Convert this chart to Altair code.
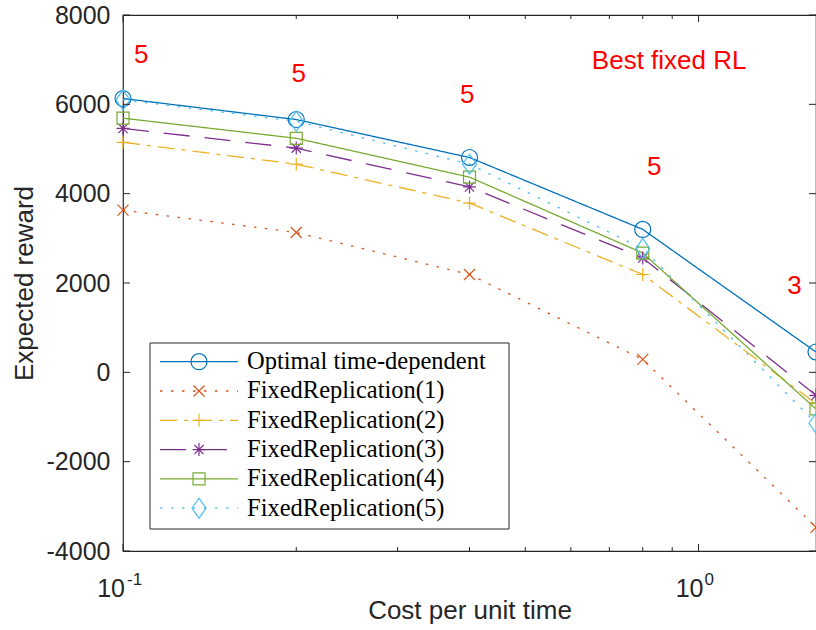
import altair as alt
import pandas as pd

# ---- data -------------------------------------------------------------
cost = [0.1, 0.2, 0.4, 0.8, 1.6]

series = [
    "Optimal time-dependent",
    "FixedReplication(1)",
    "FixedReplication(2)",
    "FixedReplication(3)",
    "FixedReplication(4)",
    "FixedReplication(5)",
]

optimal = [6130, 5660, 4810, 3200, 455]
fixed_1 = [3630, 3130, 2190, 290, -3470]
fixed_2 = [5150, 4660, 3790, 2190, -700]
fixed_3 = [5460, 5020, 4150, 2560, -515]
fixed_4 = [5690, 5240, 4370, 2670, -820]
fixed_5 = [6100, 5620, 4660, 2770, -1140]

# best fixed replication level for each cost, written above the curves
best_level = ["5", "5", "5", "5", "3"]
best_level_x = [0.1076, 0.2019, 0.3964, 0.8377, 1.4685]
best_level_y = [6920, 6510, 6020, 4410, 1750]

y_ticks = [-4000, -2000, 0, 2000, 4000, 6000, 8000]
x_ticks = [0.1, 0.2, 0.3, 0.4, 0.5, 0.6, 0.7, 0.8, 0.9, 1.0]
x_major = [0.1, 1.0]
x_exponents = ["-1", "0"]

# ---- styling ----------------------------------------------------------
colors = ["#0072BD", "#D95319", "#EDB120", "#7E2F8E", "#77AC30", "#4DBEEE"]
dashes = [[1, 0], [2.5, 8.5], [17, 7, 4, 7], [26, 15], [1, 0], [2.5, 8.5]]
shapes = [
    "M-0.8,0A0.8,0.8,0,1,1,0.8,0A0.8,0.8,0,1,1,-0.8,0Z",            # circle
    "M-0.55,-0.55L0.55,0.55M-0.55,0.55L0.55,-0.55",                  # x
    "M-0.65,0L0.65,0M0,-0.65L0,0.65",                                # plus
    "M-0.65,0L0.65,0M0,-0.65L0,0.65M-0.46,-0.46L0.46,0.46M-0.46,0.46L0.46,-0.46",  # asterisk
    "M-0.6,-0.6L0.6,-0.6L0.6,0.6L-0.6,0.6Z",                         # square
    "M0,-1L0.7,0L0,1L-0.7,0Z",                                       # diamond
]

W, H = 693, 536
AX = "#262626"
SANS = "Liberation Sans"
SERIF = "Liberation Serif"

values = [optimal, fixed_1, fixed_2, fixed_3, fixed_4, fixed_5]
df = pd.DataFrame(
    [{"series": s, "idx": i, "cost": c, "reward": v}
     for i, (s, vals) in enumerate(zip(series, values))
     for c, v in zip(cost, vals)]
)
legend_df = pd.DataFrame({"series": series, "idx": list(range(len(series)))})
ann_df = pd.DataFrame({"x": best_level_x, "y": best_level_y, "label": best_level})
xt_df = pd.DataFrame({"tick": x_ticks, "major": [t in x_major for t in x_ticks]})
yt_df = pd.DataFrame({"tick": y_ticks})
exp_df = pd.DataFrame({"tick": x_major, "exp": x_exponents})
one = pd.DataFrame({"a": [0]})

xs = alt.Scale(type="log", domain=[0.1, 1.6], nice=False)
ys = alt.Scale(domain=[-4000, 8000], nice=False, zero=False)
x_axis = alt.Axis(labels=False, ticks=False, domain=False, grid=False,
                  title="Cost per unit time", titleY=67, titleBaseline="alphabetic")
y_axis = alt.Axis(values=y_ticks, labelExpr="datum.value + ''", ticks=False,
                  domain=False, grid=False, labelPadding=13,
                  title="Expected reward", titleX=-91, titleBaseline="alphabetic")

color_sc = alt.Scale(domain=series, range=colors)
dash_sc = alt.Scale(domain=series, range=dashes)
shape_sc = alt.Scale(domain=series, range=shapes)

X = alt.X("cost:Q", scale=xs, axis=x_axis)
Y = alt.Y("reward:Q", scale=ys, axis=y_axis)
COLOR = alt.Color("series:N", scale=color_sc, legend=None)
DASH = alt.StrokeDash("series:N", scale=dash_sc, legend=None)
SHAPE = alt.Shape("series:N", scale=shape_sc, legend=None)

# ---- curves -----------------------------------------------------------
lines = alt.Chart(df).mark_line(strokeWidth=1.3, strokeCap="butt").encode(
    x=X, y=Y, color=COLOR, strokeDash=DASH, order="idx:Q"
)
points = alt.Chart(df).mark_point(filled=False, strokeWidth=1.2, size=400, opacity=1).encode(
    x=X, y=Y, color=COLOR, shape=SHAPE
)

# ---- inward MATLAB-style ticks ----------------------------------------
XT = alt.X("tick:Q", scale=xs, axis=x_axis)
YT = alt.Y("tick:Q", scale=ys, axis=y_axis)
tick_style = dict(color=AX, strokeWidth=1)
xt_major = alt.Chart(xt_df).transform_filter("datum.major")
xt_minor = alt.Chart(xt_df).transform_filter("!datum.major")
ticks = [
    xt_major.mark_rule(**tick_style).encode(x=XT, y=alt.value(H), y2=alt.value(H - 7)),
    xt_major.mark_rule(**tick_style).encode(x=XT, y=alt.value(0), y2=alt.value(7)),
    xt_minor.mark_rule(**tick_style).encode(x=XT, y=alt.value(H), y2=alt.value(H - 4)),
    xt_minor.mark_rule(**tick_style).encode(x=XT, y=alt.value(0), y2=alt.value(4)),
    alt.Chart(yt_df).mark_rule(**tick_style).encode(y=YT, x=alt.value(0), x2=alt.value(7)),
    alt.Chart(yt_df).mark_rule(**tick_style).encode(y=YT, x=alt.value(W), x2=alt.value(W - 7)),
]

# ---- log-axis labels 10^k ---------------------------------------------
base_lbl = [
    alt.Chart(exp_df).transform_filter(f"datum.tick == {t}").mark_text(
        text="10", font=SANS, fontSize=25, color=AX, align="right",
        baseline="alphabetic", dx=dx).encode(x=XT, y=alt.value(582))
    for t, dx in zip(x_major, [2, 5])
]
exp_lbl = [
    alt.Chart(exp_df).transform_filter(f"datum.tick == {t}").mark_text(
        font=SANS, fontSize=17, color=AX, align="left",
        baseline="alphabetic", dx=dx).encode(x=XT, y=alt.value(570), text="exp:N")
    for t, dx in zip(x_major, [4, 6])
]

# ---- red annotations ---------------------------------------------------
ann = alt.Chart(ann_df).mark_text(
    font=SANS, fontSize=26, color="#FF0000", baseline="alphabetic", align="center"
).encode(x=alt.X("x:Q", scale=xs, axis=x_axis), y=alt.Y("y:Q", scale=ys, axis=y_axis), text="label:N")

title_ann = alt.Chart(pd.DataFrame({"x": [0.8891], "y": [6783], "t": ["Best fixed RL"]})).mark_text(
    font=SANS, fontSize=26, color="#FF0000", baseline="alphabetic", align="center"
).encode(x=alt.X("x:Q", scale=xs, axis=x_axis), y=alt.Y("y:Q", scale=ys, axis=y_axis), text="t:N")

# ---- legend box ---------------------------------------------------------
leg_base = alt.Chart(legend_df).transform_calculate(
    ly="346.7 + 29.3 * datum.idx", ty="354 + 29.3 * datum.idx"
)
leg_frame = alt.Chart(one).mark_rect(fill="white", stroke=AX, strokeWidth=1).encode(
    x=alt.value(27), x2=alt.value(386), y=alt.value(328), y2=alt.value(514)
)
leg_lines = leg_base.mark_rule(strokeWidth=1.3, strokeCap="butt").encode(
    x=alt.value(37), x2=alt.value(115), y=alt.Y("ly:Q", scale=None),
    color=COLOR, strokeDash=DASH
)
leg_marks = leg_base.mark_point(filled=False, strokeWidth=1.2, size=400, opacity=1).encode(
    x=alt.value(76), y=alt.Y("ly:Q", scale=None), color=COLOR, shape=SHAPE
)
leg_text = leg_base.mark_text(
    font=SERIF, fontSize=24.5, color="#000000", align="left", baseline="alphabetic"
).encode(x=alt.value(124), y=alt.Y("ty:Q", scale=None), text="series:N")

chart = alt.layer(
    lines, points, *ticks, *base_lbl, *exp_lbl, ann, title_ann,
    leg_frame, leg_lines, leg_marks, leg_text
).properties(
    width=W, height=H,
    autosize=alt.AutoSizeParams(type="none"),
    padding={"left": 123, "top": 15, "right": 0, "bottom": 79},
).configure_view(
    stroke=AX, strokeWidth=1.2
).configure_axis(
    labelFont=SANS, labelFontSize=25, labelColor=AX,
    titleFont=SANS, titleFontSize=26, titleFontWeight="normal", titleColor=AX,
)

chart.save("out.html", embed_options={"renderer": "svg", "actions": False})
